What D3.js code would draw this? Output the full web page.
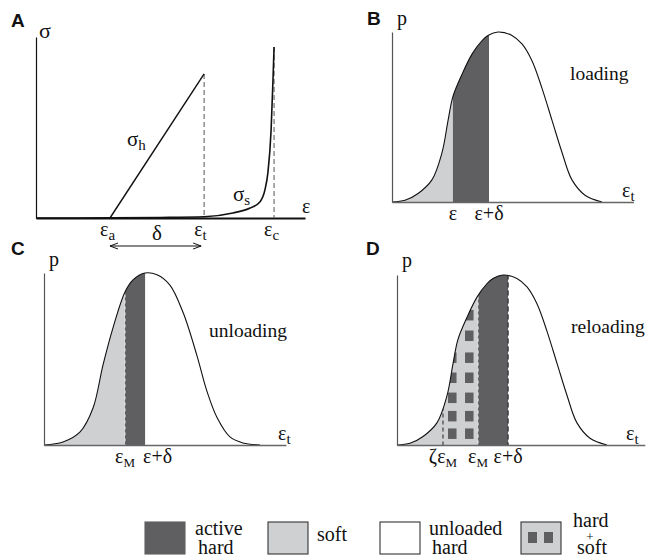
<!DOCTYPE html>
<html><head><meta charset="utf-8">
<script src="https://cdn.jsdelivr.net/npm/d3@7"></script>
<style>
body{margin:0;background:#fff}
svg{display:block}
text{font-family:"Liberation Serif","Times New Roman",serif;fill:#111;font-size:20px}
text.panel{font-family:"Liberation Sans",Arial,sans-serif;font-weight:bold;font-size:19px}
</style></head><body>
<svg id="fig" width="646" height="557"></svg>
<script>
// ---- Panel A: stress–strain of a hard and a soft element (normalised units) ----
const hardEps = [0.275, 0.625];
const hardSigma = [0, 0.796];
const softEps = [0, 0.275, 0.461, 0.625, 0.732, 0.796, 0.833, 0.851, 0.862, 0.874, 0.881, 0.885];
const softSigma = [0, 0.001, 0.003, 0.007, 0.028, 0.055, 0.09, 0.155, 0.249, 0.486, 0.762, 0.945];
const epsMarks = [0.275, 0.625, 0.885];           // εa, εt, εc
const epsMarkNames = [["ε", "a"], ["ε", "t"], ["ε", "c"]];

// ---- threshold-strain distribution p(εt), loading / reloading (εt in % of range) ----
const distX = [0, 6.2, 12.4, 19.0, 23.8, 26.7, 29.0, 33.3, 38.1, 42.9, 45.7, 50.5, 57.1, 61.9, 66.7, 71.4, 76.2, 81.0, 85.7, 91.9, 100];
const distP = [0, 0.01, 0.05, 0.13, 0.29, 0.48, 0.62, 0.75, 0.87, 0.95, 0.98, 1.0, 0.98, 0.93, 0.83, 0.67, 0.48, 0.29, 0.13, 0.04, 0];
// distribution drawn in the unloading panel
const unloadX = [0, 8.8, 16.7, 22.7, 27.3, 31.9, 37.5, 41.2, 46.8, 52.3, 58.3, 64.4, 70.8, 75.5, 80.1, 86.1, 92.1, 100];
const unloadP = [0, 0.017, 0.076, 0.215, 0.465, 0.68, 0.89, 0.96, 1.0, 0.99, 0.93, 0.77, 0.52, 0.31, 0.16, 0.047, 0.012, 0];

// band boundaries on the εt axis
const loadBounds = [29.0, 46.2];          // ε, ε+δ
const unloadBounds = [37.5, 46.8];        // εM, ε+δ
const reloadBounds = [21.9, 38.6, 52.9];  // ζεM, εM, ε+δ
const loadNames = [["ε"], ["ε+δ"]];
const unloadNames = [["ε", "M"], ["ε+δ"]];
const reloadNames = [["ζε", "M"], ["ε", "M"], ["ε+δ"]];

// hard+soft cells inside the reloading band
const cellCols = [26.2, 34.3];
const cellRows = [0.765, 0.644, 0.515, 0.397, 0.279, 0.171, 0.068];

// legend
const legendKinds = ["active", "soft", "unloaded", "mixed"];
const legendLabels = [["active", "hard"], ["soft"], ["unloaded", "hard"], ["hard", "+", "soft"]];

const DARK = "#5f5f62", LIGHT = "#cfd0d2";
const svg = d3.select("#fig");
const defs = svg.append("defs");

// text with an optional subscript: parts = [main, sub]
function label(g, x, y, parts, anchor, size, subSize) {
  const t = g.append("text").attr("x", x).attr("y", y)
    .attr("text-anchor", anchor || "start").style("font-size", (size || 20) + "px");
  t.append("tspan").text(parts[0]);
  if (parts[1]) t.append("tspan").attr("dy", 4).style("font-size", (subSize || 14) + "px").text(parts[1]);
  return t;
}

// ================= Panel A =================
{
  const g = svg.append("g");
  const x = d3.scaleLinear().domain([0, 1]).range([36, 305]);
  const y = d3.scaleLinear().domain([0, 1]).range([218, 37]);

  g.append("g").attr("transform", `translate(0,${y(0)})`)
    .call(d3.axisBottom(x).tickValues([]).tickSizeOuter(0))
    .select(".domain").attr("stroke", "#111").attr("stroke-width", 2);
  g.append("g").attr("transform", `translate(${x(0)},0)`)
    .call(d3.axisLeft(y).tickValues([]).tickSizeOuter(0))
    .select(".domain").attr("stroke", "#111").attr("stroke-width", 1.2);

  // dashed guides at εt and εc, up to the end of each curve
  const guideTops = [hardSigma[hardSigma.length - 1], softSigma[softSigma.length - 1]];
  [epsMarks[1], epsMarks[2]].forEach((e, i) => {
    g.append("line").attr("x1", x(e)).attr("x2", x(e)).attr("y1", y(guideTops[i])).attr("y2", y(0))
      .attr("stroke", "#666").attr("stroke-width", 1.1).attr("stroke-dasharray", "5,3");
  });

  const line = d3.line().x(d => x(d[0])).y(d => y(d[1]));
  g.append("path").datum(d3.zip(hardEps, hardSigma)).attr("d", line)
    .attr("fill", "none").attr("stroke", "#111").attr("stroke-width", 1.4);
  g.append("path").datum(d3.zip(softEps, softSigma)).attr("d", line.curve(d3.curveMonotoneX))
    .attr("fill", "none").attr("stroke", "#111").attr("stroke-width", 1.6);

  g.append("text").attr("class", "panel").attr("x", 11).attr("y", 27).text("A");
  g.append("text").attr("x", 39).attr("y", 38).style("font-size", "22px").text("σ");
  g.append("text").attr("x", 302).attr("y", 213).text("ε");
  label(g, 127, 146, ["σ", "h"], "start", 21, 15);
  label(g, 233, 201, ["σ", "s"], "start", 21, 15);
  epsMarks.forEach((e, i) => label(g, x(e) - 10, 236, epsMarkNames[i], "start", 20, 15));
  g.append("text").attr("x", (x(epsMarks[0]) + x(epsMarks[1])) / 2).attr("y", 240)
    .attr("text-anchor", "middle").style("font-size", "21px").text("δ");

  // δ span arrow
  ["start", "end"].forEach(k => {
    defs.append("marker").attr("id", "arr-" + k).attr("viewBox", "0 0 10 10")
      .attr("refX", k === "end" ? 9 : 1).attr("refY", 5).attr("markerWidth", 10).attr("markerHeight", 10)
      .attr("markerUnits", "userSpaceOnUse").attr("orient", "auto")
      .append("path").attr("d", k === "end" ? "M1,2 L9,5 L1,8" : "M9,2 L1,5 L9,8")
      .attr("fill", "none").attr("stroke", "#111").attr("stroke-width", 1);
  });
  g.append("line").attr("x1", x(epsMarks[0])).attr("x2", x(epsMarks[1]) - 3)
    .attr("y1", 246).attr("y2", 246).attr("stroke", "#111").attr("stroke-width", 1)
    .attr("marker-start", "url(#arr-start)").attr("marker-end", "url(#arr-end)");
}

// ================= Distribution panels B, C, D =================
function distPanel(opt) {
  const g = svg.append("g");
  const x = d3.scaleLinear().domain([0, 100]).range([opt.x0, opt.x0 + opt.w]);
  const y = d3.scaleLinear().domain([0, 1]).range([opt.y0, opt.y0 - opt.h]);
  const pts = d3.zip(opt.xs, opt.ps);
  const curve = d3.curveCatmullRom.alpha(0.5);
  const area = d3.area().x(d => x(d[0])).y0(y(0)).y1(d => y(d[1])).curve(curve);
  const line = d3.line().x(d => x(d[0])).y(d => y(d[1])).curve(curve);

  const clipId = "clip-" + opt.name;
  defs.append("clipPath").attr("id", clipId)
    .append("path").datum(pts).attr("d", area);
  const inner = g.append("g").attr("clip-path", `url(#${clipId})`);

  const b = opt.bounds;
  const edges = [0].concat(b.slice(opt.skipFirst ? 1 : 0));
  opt.fills.forEach((f, i) => {
    inner.append("rect").attr("x", x(edges[i])).attr("width", x(edges[i + 1]) - x(edges[i]))
      .attr("y", y(1.05)).attr("height", y(0) - y(1.05)).attr("fill", f);
  });
  if (opt.cells) {
    opt.cells.cols.forEach(c => opt.cells.rows.forEach(r => {
      inner.append("rect").attr("x", x(c) - 4).attr("y", y(r) - 5).attr("width", 8.5).attr("height", 10.5)
        .attr("fill", DARK);
    }));
  }
  // boundary guides
  (opt.guides || []).forEach(gd => {
    inner.append("line").attr("x1", x(b[gd.i])).attr("x2", x(b[gd.i]))
      .attr("y1", y(1.05)).attr("y2", y(0)).attr("stroke", gd.color)
      .attr("stroke-width", gd.width || 1).attr("stroke-dasharray", gd.dash);
  });

  g.append("path").datum(pts).attr("d", line).attr("fill", "none")
    .attr("stroke", "#111").attr("stroke-width", 1.1);

  const xa = x.copy().domain([0, opt.axisEnd]).range([opt.x0, opt.x0 + opt.w * opt.axisEnd / 100]);
  g.append("g").attr("transform", `translate(0,${opt.y0})`)
    .call(d3.axisBottom(xa).tickValues([]).tickSizeOuter(0))
    .select(".domain").attr("stroke", "#666").attr("stroke-width", 1.5);
  g.append("g").attr("transform", `translate(${opt.x0},0)`)
    .call(d3.axisLeft(y.copy().domain([0, opt.axisTop])).tickValues([]).tickSizeOuter(0))
    .select(".domain").attr("stroke", "#555").attr("stroke-width", 1.2);

  g.append("text").attr("class", "panel").attr("x", opt.lx).attr("y", opt.ly).text(opt.letter);
  g.append("text").attr("x", opt.x0 + 5).attr("y", opt.py).text("p");
  label(g, opt.etx, opt.y0 - 5, ["ε", "t"], "start", 20, 15);
  g.append("text").attr("x", opt.tx).attr("y", opt.ty).style("font-size", "19.5px").text(opt.title);
  opt.names.forEach((nm, i) => {
    const anchor = opt.nameAnchor ? opt.nameAnchor[i] : "middle";
    const dx = opt.nameDx ? opt.nameDx[i] : 0;
    label(g, x(b[i]) + dx, opt.y0 + 18, nm, anchor, 20, 13);
  });
}

distPanel({name: "b", letter: "B", lx: 367, ly: 25, x0: 392, w: 210, y0: 202, h: 170,
  xs: distX, ps: distP, bounds: loadBounds, fills: [LIGHT, DARK], names: loadNames,
  axisEnd: 115, axisTop: 1.09, py: 25, etx: 622, title: "loading", tx: 570, ty: 80});
distPanel({name: "c", letter: "C", lx: 11, ly: 255, x0: 44, w: 216, y0: 445, h: 172,
  xs: unloadX, ps: unloadP, bounds: unloadBounds, fills: [LIGHT, DARK], names: unloadNames,
  nameAnchor: ["middle", "start"], nameDx: [0, -2],
  guides: [{i: 0, color: "#eeeeee", dash: "3,3"}],
  axisEnd: 112, axisTop: 1.08, py: 266, etx: 278, title: "unloading", tx: 209, ty: 337});
distPanel({name: "d", letter: "D", lx: 366, ly: 255, x0: 397, w: 210, y0: 445, h: 170,
  xs: distX, ps: distP, bounds: reloadBounds, skipFirst: true, fills: [LIGHT, DARK], names: reloadNames,
  cells: {cols: cellCols, rows: cellRows},
  guides: [{i: 0, color: "#222", dash: "4,3"}, {i: 1, color: "#eeeeee", dash: "3,3"}, {i: 2, color: "#2a2a2a", dash: "5,3", width: 1.2}],
  axisEnd: 118, axisTop: 1.08, py: 267, etx: 626, title: "reloading", tx: 571, ty: 333});

// ================= Legend =================
{
  const g = svg.append("g");
  const boxX = [145, 268, 380, 521], textX = [195, 317, 429, 573];
  legendKinds.forEach((k, i) => {
    const bx = boxX[i];
    g.append("rect").attr("x", bx).attr("y", 522).attr("width", 40).attr("height", 32)
      .attr("fill", k === "active" ? DARK : k === "unloaded" ? "#fff" : LIGHT)
      .attr("stroke", k === "active" ? DARK : "#333").attr("stroke-width", 1.1);
    if (k === "mixed") {
      [7, 23].forEach(o => g.append("rect").attr("x", bx + o).attr("y", 532).attr("width", 9).attr("height", 11).attr("fill", DARK));
    }
    const lab = legendLabels[i];
    if (lab.length === 1) {
      g.append("text").attr("x", textX[i]).attr("y", 541).text(lab[0]);
    } else if (lab.length === 2) {
      g.append("text").attr("x", textX[i]).attr("y", 535).text(lab[0]);
      g.append("text").attr("x", textX[i] + 3).attr("y", 554).text(lab[1]);
    } else {
      g.append("text").attr("x", textX[i]).attr("y", 527).text(lab[0]);
      g.append("text").attr("x", textX[i] + 17).attr("y", 541).attr("text-anchor", "middle").style("font-size", "13px").text(lab[1]);
      g.append("text").attr("x", textX[i] + 4).attr("y", 554).text(lab[2]);
    }
  });
}
</script>
</body></html>
